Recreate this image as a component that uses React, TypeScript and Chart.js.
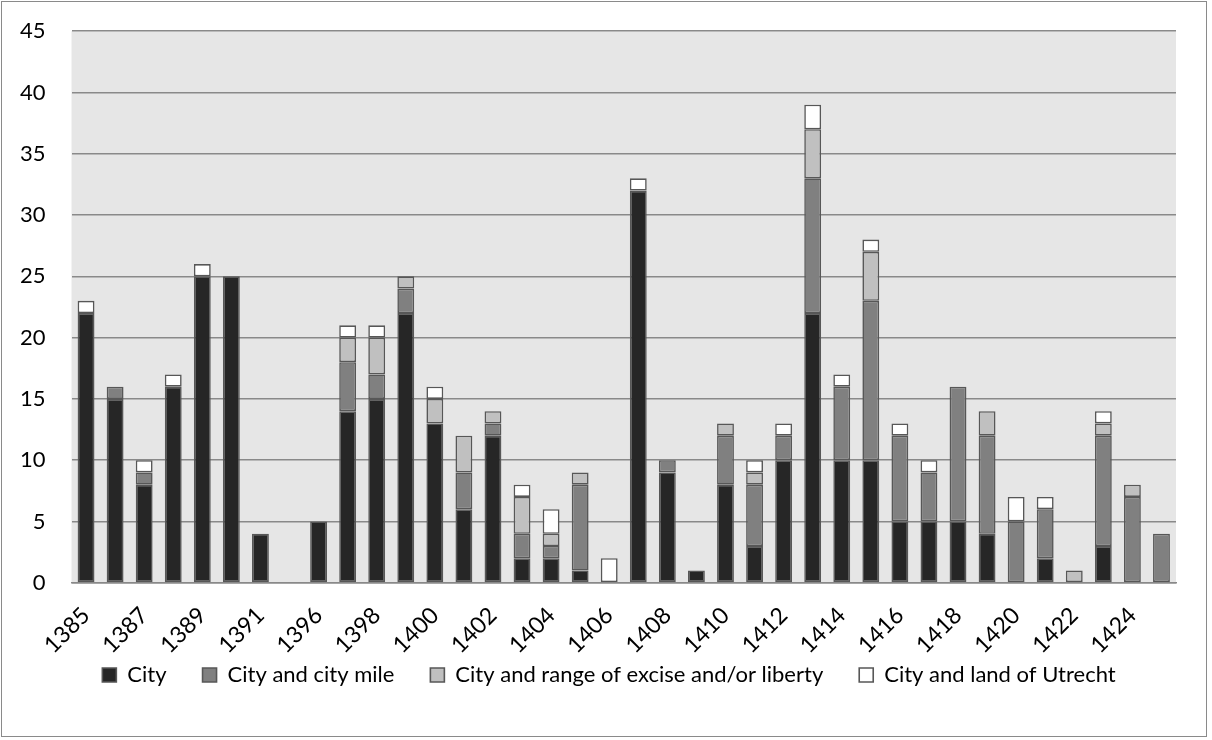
import {useEffect, useRef} from "react";
import {Chart, registerables, Plugin} from "chart.js";

Chart.register(...registerables);

const years = [
  "1385", "1386", "1387", "1388", "1389", "1390", "1391", "1395",
  "1396", "1397", "1398", "1399", "1400", "1401", "1402", "1403", "1404", "1405", "1406", "1407",
  "1408", "1409", "1410", "1411", "1412", "1413", "1414", "1415", "1416", "1417",
  "1418", "1419", "1420", "1421", "1422", "1423", "1424", "1425",
];

const city = [22, 15, 8, 16, 25, 25, 4, 0, 5, 14, 15, 22, 13, 6, 12, 2, 2, 1, 0, 32, 9, 1, 8, 3, 10, 22, 10, 10, 5, 5, 5, 4, 0, 2, 0, 3, 0, 0];
const cityMile = [0, 1, 1, 0, 0, 0, 0, 0, 0, 4, 2, 2, 0, 3, 1, 2, 1, 7, 0, 0, 1, 0, 4, 5, 2, 11, 6, 13, 7, 4, 11, 8, 5, 4, 0, 9, 7, 4];
const exciseRange = [0, 0, 0, 0, 0, 0, 0, 0, 0, 2, 3, 1, 2, 3, 1, 3, 1, 1, 0, 0, 0, 0, 1, 1, 0, 4, 0, 4, 0, 0, 0, 2, 0, 0, 1, 1, 1, 0];
const landUtrecht = [1, 0, 1, 1, 1, 0, 0, 0, 0, 1, 1, 0, 1, 0, 0, 1, 2, 0, 2, 1, 0, 0, 0, 1, 1, 2, 1, 1, 1, 1, 0, 0, 2, 1, 0, 1, 0, 0];

const FONT = "Lato, 'Open Sans', sans-serif";

// light grey fill behind the plot
const plotBackground: Plugin<"bar"> = {
  id: "plotBackground",
  beforeDraw(chart) {
    const {ctx, chartArea} = chart;
    if (!chartArea) return;
    ctx.save();
    ctx.fillStyle = "#e6e6e6";
    ctx.fillRect(chartArea.left, chartArea.top, chartArea.right - chartArea.left, chartArea.bottom - chartArea.top);
    ctx.restore();
  },
};

// pull the legend up closer to the rotated year labels and centre it on the page
const LEGEND_LIFT = 42;
const LEGEND_SHIFT = 19;
const legendMove: Plugin<"bar"> = {
  id: "legendMove",
  afterLayout(chart) {
    const legend = chart.legend;
    if (!legend) return;
    legend.top -= LEGEND_LIFT;
    legend.bottom -= LEGEND_LIFT;
    legend.left += LEGEND_SHIFT;
    legend.right += LEGEND_SHIFT;
  },
};

const toBars = (values: number[]) => values.map(v => (v === 0 ? null : v));

export default function App() {
  const chartRef = useRef<HTMLCanvasElement>(null);
  const chartInstance = useRef<Chart | null>(null);

  useEffect(() => {
    document.body.style.margin = "0";
    if (!chartRef.current) return;
    if (chartInstance.current) chartInstance.current.destroy();

    const series = [
      {label: "City", data: city, color: "#262626"},
      {label: "City and city mile", data: cityMile, color: "#808080"},
      {label: "City and range of excise and/or liberty", data: exciseRange, color: "#c0c0c0"},
      {label: "City and land of Utrecht", data: landUtrecht, color: "#ffffff"},
    ];

    chartInstance.current = new Chart(chartRef.current, {
      type: "bar",
      data: {
        labels: years,
        datasets: series.map(s => ({
          label: s.label,
          data: toBars(s.data),
          backgroundColor: s.color,
          borderColor: "#575757",
          borderWidth: 1.6,
          borderSkipped: false,
          barPercentage: 0.58,
          categoryPercentage: 1,
        })),
      },
      options: {
        animation: false,
        responsive: true,
        maintainAspectRatio: false,
        layout: {padding: {left: 2, right: 30, top: 0, bottom: -2}},
        plugins: {
          legend: {
            position: "bottom",
            labels: {
              color: "#000",
              font: {family: FONT, size: 22},
              boxWidth: 14,
              boxHeight: 14,
              padding: 36,
            },
          },
          tooltip: {enabled: false},
        },
        scales: {
          x: {
            stacked: true,
            grid: {display: false},
            border: {color: "#898989", width: 1.5},
            ticks: {
              autoSkip: false,
              minRotation: 45,
              maxRotation: 45,
              padding: 11,
              color: "#000",
              font: {family: FONT, size: 23},
              callback: (_v, i) => (i % 2 === 0 ? years[i] : ""),
            },
          },
          y: {
            stacked: true,
            min: 0,
            max: 45,
            border: {display: false},
            grid: {
              color: "#898989",
              lineWidth: 1.5,
              drawTicks: true,
              tickLength: 10,
              tickColor: "rgba(0,0,0,0)",
            },
            ticks: {
              stepSize: 5,
              padding: 16,
              color: "#000",
              font: {family: FONT, size: 22},
            },
          },
        },
      },
      plugins: [plotBackground, legendMove],
    });

    return () => {
      if (chartInstance.current) {
        chartInstance.current.destroy();
        chartInstance.current = null;
      }
    };
  }, []);

  return (
    <div
      style={{
        margin: "1px",
        width: "1206px",
        height: "736px",
        border: "1.5px solid #8a8a8a",
        boxSizing: "border-box",
        background: "#fff",
        position: "relative",
      }}
    >
      <canvas ref={chartRef} />
    </div>
  );
}
